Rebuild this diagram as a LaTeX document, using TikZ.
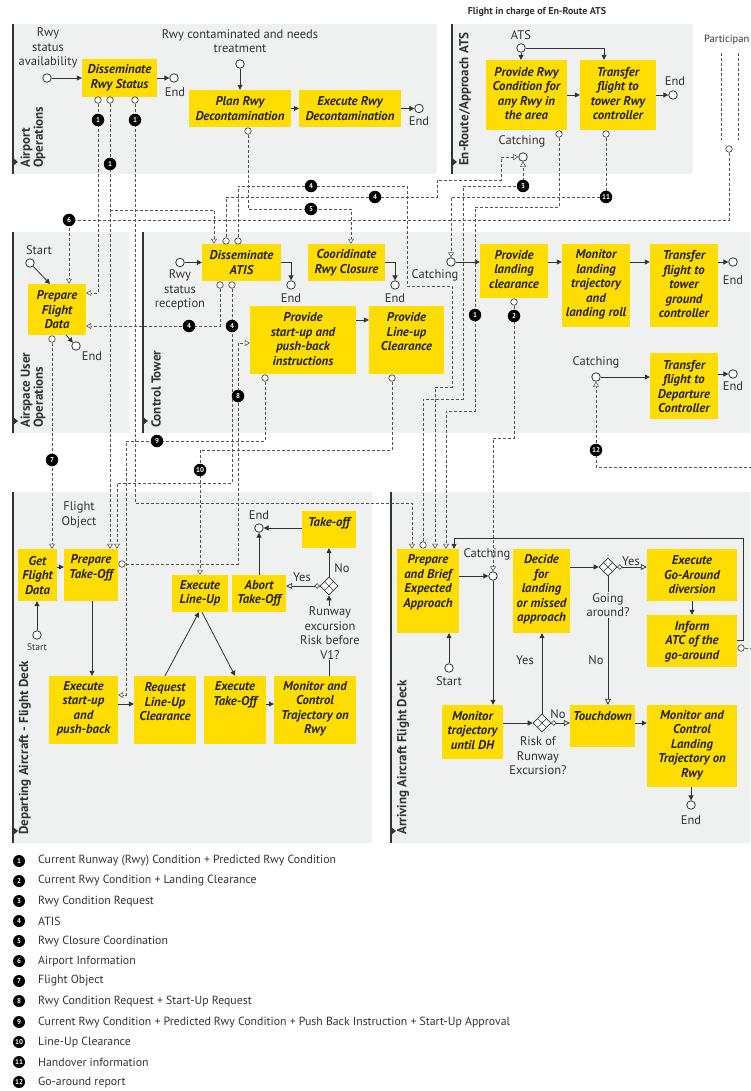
\documentclass[tikz,border=0pt]{standalone}
\usepackage{fontspec}
\setmainfont{PT Sans}
\usetikzlibrary{arrows.meta,calc,shapes.geometric}
\definecolor{ybox}{HTML}{FFDD00}
\definecolor{lanebg}{HTML}{EFF0F0}
\definecolor{ink}{HTML}{333333}
\definecolor{dgrey}{HTML}{555555}
\newcommand\xboxfont{\fontsize{12.8}{14.5}\selectfont\bfseries\itshape}
\newcommand\xlblfont{\fontsize{12.5}{14.5}\selectfont}
\newcommand\xmkfont{\fontsize{7}{7}\selectfont\bfseries}
\newcommand\xlanefont{\fontsize{13}{13}\selectfont\bfseries}
\newcommand\xlegfont{\fontsize{11.8}{13}\selectfont}
\newcommand\tbox[7]{%
 \node[taskbox,minimum width={#4-#2},minimum height={#5-#3}] (#1) at ({(#2+#4)/2},{(#3+#5)/2}) {};
 \node[tasktext] (#1t) at ({(#2+#4)/2},#6) {#7};}
\tikzset{
 taskbox/.style={fill=ybox,draw=none,inner sep=0pt,rectangle},
 tasktext/.style={align=center,font=\xboxfont,inner sep=0pt,text=black!85},
 lbl/.style={align=center,font=\xlblfont,inner sep=0pt,text=ink},
 evt/.style={circle,draw=ink,fill=white,line width=0.8pt,minimum size=8.5pt,inner sep=0pt},
 msrc/.style={circle,draw=ink,fill=white,line width=0.6pt,minimum size=6.5pt,inner sep=0pt},
 mk/.style={circle,fill=black,text=white,font=\xmkfont,inner sep=0pt,minimum size=12.5pt},
 seq/.style={draw=ink,line width=0.8pt,-{Triangle[length=5pt,width=5pt]}},
 seqo/.style={draw=ink,line width=0.8pt,-{Triangle[length=6pt,width=6pt,fill=white]}},
 msg/.style={draw=dgrey,line width=0.6pt,dash pattern=on 3pt off 2pt,-{Triangle[length=5pt,width=6pt,fill=white]}},
 msgn/.style={draw=dgrey,line width=0.6pt,dash pattern=on 3pt off 2pt},
 lanelbl/.style={font=\xlanefont,align=left,inner sep=0pt,rotate=90,anchor=west,text=ink},
 gwy/.style={diamond,draw=ink,fill=white,line width=0.7pt,minimum size=18pt,inner sep=0pt},
 cdia/.style={diamond,draw=ink,fill=white,line width=0.6pt,minimum size=5pt,inner sep=0pt},
}
\begin{document}
\begin{tikzpicture}[x=1pt,y=-1pt]
\useasboundingbox (0,0) rectangle (750,1091);
\fill[white] (0,0) rectangle (750,1091);

% ---------- lanes
\fill[lanebg] (13,24) rectangle (437,174);
\fill[lanebg] (452,24) rectangle (693,174);
\fill[lanebg] (13,232) rectangle (129,433);
\fill[lanebg] (143,232) rectangle (750,433);
\fill[lanebg] (13,492) rectangle (372,843);
\fill[lanebg] (391,492) rectangle (750,843);
\foreach \a/\b/\x in {24/174/13, 24/174/452, 232/433/13, 232/433/143, 492/843/13, 492/843/391}{
 \draw[ink,line width=1.2pt] (\x,\a)--(\x,\b);
 \fill[ink] (\x,\b-16) -- ++(5,4) -- ++(-5,4) -- cycle;}
\node[lanelbl] (lane1) at (33,168) {Airport\\Operations};
\node[lanelbl] (lane2) at (465,166) {En-Route/Approach ATS};
\node[lanelbl] (lane3) at (33,428) {Airspace User\\Operations};
\node[lanelbl] (lane4) at (156,428) {Control Tower};
\node[lanelbl] (lane5) at (25,835) {Departing Aircraft - Flight Deck};
\node[lanelbl] (lane6) at (403,835) {Arriving Aircraft Flight Deck};

\node[font=\bfseries\fontsize{10}{12}\selectfont,text=ink,inner sep=0pt] (title) at (537,12) {Flight in charge of En-Route ATS};
\node[font=\fontsize{10.5}{12}\selectfont,text=ink,anchor=east,inner sep=0pt] (part) at (749.5,40) {Participan};
\draw[msgn] (721,53)--(721,140);
\draw[msgn] (738,53)--(738,140);

% ---------- tasks
\tbox{drs}{82}{59}{157}{97}{78}{Disseminate\\Rwy Status}
\tbox{prd}{189}{90}{291}{127}{108.5}{Plan Rwy\\Decontamination}
\tbox{erd}{299}{90}{401}{127}{108.5}{Execute Rwy\\Decontamination}
\tbox{prc}{486}{60}{567}{130}{93.5}{Provide Rwy\\Condition for\\any Rwy in\\the area}
\tbox{tft}{580}{60}{656}{130}{93.5}{Transfer\\flight to\\tower Rwy\\controller}
\tbox{pfd}{28}{284}{86}{335}{310}{Prepare\\Flight\\Data}
\tbox{dati}{202}{244}{281}{281}{262.5}{Disseminate\\ATIS}
\tbox{crc}{308}{244}{385}{281}{262.5}{Cooridinate\\Rwy Closure}
\tbox{pspb}{250}{306}{356}{374}{339}{Provide\\start-up and\\push-back\\instructions}
\tbox{plc}{369}{306}{444}{374}{332}{Provide\\Line-up\\Clearance}
\tbox{plcl}{480}{244}{548}{298}{269.5}{Provide\\landing\\clearance}
\tbox{mltr}{562}{244}{630}{327}{284.5}{Monitor\\landing\\trajectory\\and\\landing roll}
\tbox{tftg}{650}{244}{718}{327}{284.5}{Transfer\\flight to\\tower\\ground\\controller}
\tbox{tfdc}{650}{353}{718}{419}{386.5}{Transfer\\flight to\\Departure\\Controller}
\tbox{gfd}{18}{549}{57}{601}{575.5}{Get\\Flight\\Data}
\tbox{pto}{64}{549}{118}{601}{568}{Prepare\\Take-Off}
\tbox{esp}{49}{676}{118}{744}{709}{Execute\\start-up\\and\\push-back}
\tbox{rlc}{134}{676}{196}{744}{702}{Request\\Line-Up\\Clearance}
\tbox{eto}{204}{676}{266}{744}{695}{Execute\\Take-Off}
\tbox{mct}{274}{676}{356}{744}{709}{Monitor and\\Control\\Trajectory on\\Rwy}
\tbox{elu}{172}{575}{228}{612}{593.5}{Execute\\Line-Up}
\tbox{ato}{232}{575}{286}{612}{593.5}{Abort\\Take-Off}
\tbox{tko}{302}{511}{356}{548}{523}{Take-off}
\tbox{pbea}{397}{549}{459}{633}{582}{Prepare\\and Brief\\Expected\\Approach}
\tbox{dlma}{513}{549}{570}{633}{589.5}{Decide\\for\\landing\\or missed\\approach}
\tbox{mtdh}{442}{705}{503}{759}{730.5}{Monitor\\trajectory\\until DH}
\tbox{egad}{647}{549}{737}{601}{575}{Execute\\Go-Around\\diversion}
\tbox{iatc}{647}{615}{737}{667}{641.5}{Inform\\ATC of the\\go-around}
\tbox{tdn}{570}{705}{635}{747}{716}{Touchdown}
\tbox{mclt}{647}{705}{737}{787}{745}{Monitor and\\Control\\Landing\\Trajectory on\\Rwy}

% ---------- events
\node[evt] (s1) at (47,78) {};
\node[evt] (e1) at (174,78) {};
\node[evt] (s2) at (240,64) {};
\node[evt] (e2) at (419,108.5) {};
\node[evt] (s3) at (521,48) {};
\node[evt] (e3) at (673,95) {};
\node[evt] (catch1) at (523,157) {};
\node[evt] (s4) at (30,263) {};
\node[evt] (e4) at (76,346) {};
\node[evt] (s5) at (180,262.5) {};
\node[evt] (e5) at (291,285) {};
\node[evt] (e6) at (395,285) {};
\node[evt] (catch2) at (451,262) {};
\node[evt] (e7) at (733,262) {};
\node[evt] (catch3) at (596,377) {};
\node[evt] (e8) at (733,374) {};
\node[evt] (s6) at (37,635) {};
\node[evt] (e9) at (259,528) {};
\node[evt] (catch4) at (493,576) {};
\node[evt] (s7) at (449,668) {};
\node[evt] (e10) at (691,805) {};

\node[lbl] (ls1) at (48,48) {Rwy\\status\\availability};
\node[lbl] (le1) at (175,92) {End};
\node[lbl] (ls2) at (240,41) {Rwy contaminated and needs\\treatment};
\node[lbl] (le2) at (419,121) {End};
\node[lbl] (ls3) at (521,35) {ATS};
\node[lbl] (le3) at (675,81) {End};
\node[lbl] (lc1) at (522,141) {Catching};
\node[lbl] (ls4) at (39,250) {Start};
\node[lbl] (le4) at (92,356) {End};
\node[lbl] (ls5) at (180,290) {Rwy\\status\\reception};
\node[lbl] (le5) at (291,298) {End};
\node[lbl] (le6) at (395,298) {End};
\node[lbl] (lc2) at (435,275) {Catching};
\node[lbl] (le7) at (733,280) {End};
\node[lbl] (lc3) at (596,362) {Catching};
\node[lbl] (le8) at (733,386) {End};
\node[lbl,font=\fontsize{9.5}{11}\selectfont] (ls6) at (37,647) {Start};
\node[lbl] (le9) at (259,515) {End};
\node[lbl] (lc4) at (487,554) {Catching};
\node[lbl] (ls7) at (449,681) {Start};
\node[lbl] (le10) at (691,820) {End};
\node[lbl] (lfo) at (79,515) {Flight\\Object};

% ---------- gateways
\node[gwy] (g1) at (329,586) {};
\node[gwy] (g2) at (542,723) {};
\node[gwy] (g3) at (608,567) {};
\foreach \g in {g1,g2,g3}{
 \draw[ink,line width=0.6pt] ($(\g)+(-4.5,-4.5)$)--($(\g)+(4.5,4.5)$);
 \draw[ink,line width=0.6pt] ($(\g)+(-4.5,4.5)$)--($(\g)+(4.5,-4.5)$);}

% ---------- sequence flows
\draw[seq] (s1) -- (drs);
\draw[seq] (drs) -- (e1);
\draw[seq] (s2) -- (prd);
\draw[seq] (prd) -- (erd);
\draw[seq] (erd) -- (e2);
\draw[seq] (s3) -- (s3 |- prc.north);
\draw[seq] (s3) -- (604,48) -- (tft.north -| 604,0);
\draw[seq] (prc) -- (tft);
\draw[seq] (tft.east |- e3) -- (e3);
\draw[seq] (s4) -- (50,284);
\draw[seq] (66,335) -- (e4);
\draw[seq] (s5) -- (dati.west |- s5);
\draw[seq] (dati.east) -| (e5);
\draw[seq] (crc.east) -| (e6);
\draw[seq] (catch2) -- (plcl.west |- catch2);
\draw[seq] (plcl.east |- 0,262) -- (mltr.west |- 0,262);
\draw[seq] (mltr.east |- 0,262) -- (tftg.west |- 0,262);
\draw[seq] (tftg.east |- e7) -- (e7);
\draw[seq] (catch3) -- (tfdc.west |- catch3);
\draw[seq] (tfdc.east |- e8) -- (e8);
\draw[seq] (pspb.east |- 0,320) -- (plc.west |- 0,320);
\draw[seq] (s6) -- (gfd.south -| s6);
\draw[seq] (gfd.east |- 0,567) -- (pto.west |- 0,567);
\draw[seq] (pto.south -| 92,0) -- (esp.north -| 92,0);
\draw[seq] (esp.east |- 0,704) -- (rlc.west |- 0,704);
\draw[seq] (rlc.north -| 165,0) -- (elu.south -| 199,0);
\draw[seq] (elu.south -| 202,0) -- (eto.north -| 235,0);
\draw[seq] (eto.east |- 0,704) -- (mct.west |- 0,704);
\draw[seq] (mct.north -| g1) -- (g1);
\draw[seqo] (g1) -- (ato.east |- g1);
\draw[seq] (g1) -- (tko.south -| g1);
\draw[seq] (ato.north -| e9) -- (e9);
\draw[seq] (tko.west |- e9) -- (e9);
\draw[seq] (s7) -- (pbea.south -| s7);
\draw[seq] (pbea.east |- catch4) -- (catch4);
\draw[seq] (catch4) -- (mtdh.north -| catch4);
\draw[seq] (mtdh.east |- g2) -- (g2);
\draw[seq] (g2) -- (dlma.south -| g2);
\draw[seqo] (g2) -- (tdn.west |- g2);
\draw[seq] (dlma.east |- g3) -- (g3);
\draw[seqo] (g3) -- (egad.west |- g3);
\draw[seqo] (g3) -- (tdn.north -| g3);
\draw[seq] (egad.south -| 692,0) -- (iatc.north -| 692,0);
\draw[seq] (iatc.east |- 0,640) -- (743,640) -- (743,538) -- (454,538) -- (pbea.north -| 454,0);
\draw[seq] (tdn.east |- 0,723) -- (mclt.west |- 0,723);
\draw[seq] (mclt.south -| e10) -- (e10);
\node[cdia] (cd1) at ($(g1.west)+(-2.5,0)$) {};
\node[cdia] (cd2) at ($(g2.east)+(2.5,0)$) {};
\node[cdia] (cd3) at ($(g3.east)+(2.5,0)$) {};

% gateway labels (over lines)
\node[lbl,fill=lanebg,inner sep=1pt] (lg1) at (330,633) {Runway\\excursion\\Risk before\\V1?};
\node[lbl] (lg2) at (538,756) {Risk of\\Runway\\Excursion?};
\node[lbl,fill=lanebg,inner sep=1pt] (lg3) at (608,605) {Going\\around?};
\node[lbl] (ly1) at (302,577) {Yes};
\node[lbl] (ln1) at (342,568) {No};
\node[lbl] (ly2) at (525,660) {Yes};
\node[lbl] (ln2) at (558,714) {No};
\node[lbl] (ly3) at (631,561) {Yes};
\node[lbl] (ln3) at (596,660) {No};

% ---------- message flows
\node[msrc] (c1a) at (98,100) {};
\node[msrc] (c1b) at (110,100) {};
\node[msrc] (c1c) at (135,100) {};
\node[msrc] (c5) at (248,131) {};
\node[msrc] (c1d) at (559,134) {};
\node[msrc] (c11) at (606,134) {};
\node[msrc] (c6) at (729,149) {};
\node[msrc] (c4c) at (226,241) {};
\node[msrc] (c4d) at (238,241) {};
\node[msrc] (c4a) at (220,285) {};
\node[msrc] (c4b) at (232,285) {};
\node[msrc] (c9) at (265,378) {};
\node[msrc] (c10) at (392,378) {};
\node[msrc] (c2) at (514,302) {};
\node[msrc] (c7) at (52,339) {};
\node[msrc] (c8) at (122,564) {};
\node[msrc] (c3) at (423,545) {};
\node[msrc] (c12) at (741,648) {};
\coordinate (off12a) at (752,648);
\coordinate (off12b) at (752,467);

\draw[msg] (c1a) -- (98,293) -- (pfd.east |- 0,293);
\draw[msg] (c1b) -- (pto.north -| 110,0);
\draw[msg] (110,210) -- (214,210) -- (dati.north -| 214,0);
\draw[msg] (c1c) -- (135,503) -- (412,503) -- (pbea.north -| 412,0);
\draw[msg] (c1d) -- (559,207) -- (475,207) -- (475,411) -- (446,411) -- (pbea.north -| 446,0);
\draw[msg] (c2) -- (514,438) -- (493,438) -- (catch4);
\draw[msg] (c3) -- (423,399) -- (463,399) -- (463,186) -- (523,186) -- (catch1);
\draw[msg] (c4a) -- (220,326) -- (pfd.east |- 0,326);
\draw[msg] (c4b) -- (232,483) -- (117,483) -- (pto.north -| 117,0);
\draw[msg] (c4c) -- (226,197) -- (437,197) -- (437,180) -- (501,180) -- (501,157) -- (catch1);
\draw[msg] (c4d) -- (238,186) -- (407,186) -- (407,286) -- (452,286) -- (452,387) -- (435,387) -- (pbea.north -| 435,0);
\draw[msg] (c5) -- (248,209) -- (351,209) -- (crc.north -| 351,0);
\draw[msg] (c6) -- (729,220) -- (69,220) -- (pfd.north -| 69,0);
\draw[msg] (c7) -- (gfd.north -| c7);
\draw[msg] (c8) -- (238,564) -- (238,343) -- (pspb.west |- 0,343);
\draw[msg] (c9) -- (265,441) -- (126,441) -- (126,695) -- (esp.east |- 0,695);
\draw[msg] (c10) -- (392,450) -- (200,450) -- (elu.north -| 200,0);
\draw[msg] (c11) -- (606,197) -- (451,197) -- (catch2);
\draw[msgn] (c12) -- (off12a);
\draw[msg] (off12b) -- (596,467) -- (catch3);

% ---------- markers
\node[mk] (m1a) at (98,120) {1};
\node[mk] (m1b) at (110,164) {1};
\node[mk] (m1c) at (135,120) {1};
\node[mk] (m1d) at (475,315) {1};
\node[mk] (m2) at (514,316) {2};
\node[mk] (m3) at (523,186) {3};
\node[mk] (m4a) at (189,326) {4};
\node[mk] (m4b) at (232,326) {4};
\node[mk] (m4c) at (375,197) {4};
\node[mk] (m4d) at (311,186) {4};
\node[mk] (m5) at (311,209) {5};
\node[mk] (m6) at (69,220) {6};
\node[mk] (m7) at (52,460) {7};
\node[mk] (m8) at (238,396) {8};
\node[mk] (m9) at (157,441) {9};
\node[mk] (m10) at (200,470) {10};
\node[mk] (m11) at (606,197) {11};
\node[mk] (m12) at (596,450) {12};

% ---------- legend
\foreach \n/\yy/\t in {1/861/{Current Runway (Rwy) Condition + Predicted Rwy Condition},
 2/881/{Current Rwy Condition + Landing Clearance},
 3/901/{Rwy Condition Request},
 4/921/{ATIS},
 5/941/{Rwy Closure Coordination},
 6/961/{Airport Information},
 7/981/{Flight Object},
 8/1001/{Rwy Condition Request + Start-Up Request},
 9/1022/{Current Rwy Condition + Predicted Rwy Condition + Push Back Instruction + Start-Up Approval},
 10/1042/{Line-Up Clearance},
 11/1062/{Handover information},
 12/1082/{Go-around report}}{
 \node[mk,minimum size=12pt] (leg\n) at (19,\yy) {\n};
 \node[font=\xlegfont,text=ink,anchor=west,inner sep=0pt] (legt\n) at (38,\yy) {\t};}
\end{tikzpicture}
\end{document}
